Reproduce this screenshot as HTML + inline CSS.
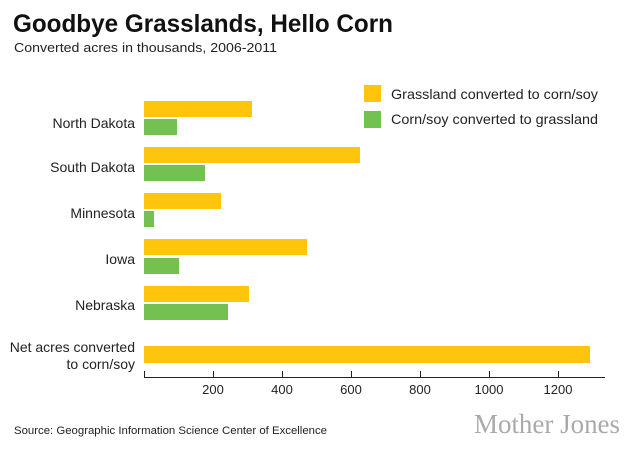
<!DOCTYPE html>
<html><head><meta charset="utf-8"><style>
body{margin:0;background:#fff;width:630px;height:450px;overflow:hidden;font-family:"Liberation Sans",sans-serif}
</style></head><body>
<svg width="630" height="450" xmlns="http://www.w3.org/2000/svg" font-family="Liberation Sans, sans-serif">
<text x="13" y="32" font-size="25" font-weight="bold" fill="#111" textLength="380" lengthAdjust="spacingAndGlyphs">Goodbye Grasslands, Hello Corn</text>
<text x="14" y="52" font-size="13" fill="#222" textLength="263" lengthAdjust="spacingAndGlyphs">Converted acres in thousands, 2006-2011</text>
<rect x="364" y="85" width="17" height="17" fill="#ffc40c"/>
<text x="391" y="99" font-size="14" fill="#222" textLength="207" lengthAdjust="spacingAndGlyphs">Grassland converted to corn/soy</text>
<rect x="364" y="111" width="17" height="17" fill="#74c050"/>
<text x="391" y="124" font-size="14" fill="#222" textLength="207" lengthAdjust="spacingAndGlyphs">Corn/soy converted to grassland</text>
<g font-size="14" fill="#222" text-anchor="end">
<text x="135" y="128">North Dakota</text>
<text x="135" y="172">South Dakota</text>
<text x="135" y="218">Minnesota</text>
<text x="135" y="264">Iowa</text>
<text x="135" y="310">Nebraska</text>
<text x="135" y="352">Net acres converted</text>
<text x="135" y="369">to corn/soy</text>
</g>
<g fill="#ffc40c">
<rect x="144" y="101" width="108" height="16"/>
<rect x="144" y="147" width="216" height="16"/>
<rect x="144" y="193" width="77" height="16"/>
<rect x="144" y="239" width="163" height="16"/>
<rect x="144" y="286" width="105" height="16"/>
<rect x="144" y="346" width="446" height="17"/>
</g>
<g fill="#74c050">
<rect x="144" y="119" width="33" height="16"/>
<rect x="144" y="165" width="61" height="16"/>
<rect x="144" y="211" width="10" height="16"/>
<rect x="144" y="258" width="35" height="16"/>
<rect x="144" y="304" width="84" height="16"/>
</g>
<g stroke="#222" stroke-width="1">
<line x1="144" y1="377.5" x2="605" y2="377.5"/>
<line x1="144.5" y1="371" x2="144.5" y2="378"/>
<line x1="213.5" y1="371" x2="213.5" y2="378"/>
<line x1="282.5" y1="371" x2="282.5" y2="378"/>
<line x1="351.5" y1="371" x2="351.5" y2="378"/>
<line x1="420.5" y1="371" x2="420.5" y2="378"/>
<line x1="489.5" y1="371" x2="489.5" y2="378"/>
<line x1="558.5" y1="371" x2="558.5" y2="378"/>
</g>
<g font-size="13" fill="#222" text-anchor="middle">
<text x="213" y="394">200</text><text x="282" y="394">400</text><text x="351" y="394">600</text>
<text x="420" y="394">800</text><text x="489" y="394">1000</text><text x="558" y="394">1200</text>
</g>
<text x="14" y="434" font-size="11" fill="#222" textLength="313" lengthAdjust="spacingAndGlyphs">Source: Geographic Information Science Center of Excellence</text>
<text x="474" y="433" font-size="27" fill="#aaa" font-family="Liberation Serif, serif" textLength="146" lengthAdjust="spacingAndGlyphs">Mother Jones</text>
</svg>
</body></html>
